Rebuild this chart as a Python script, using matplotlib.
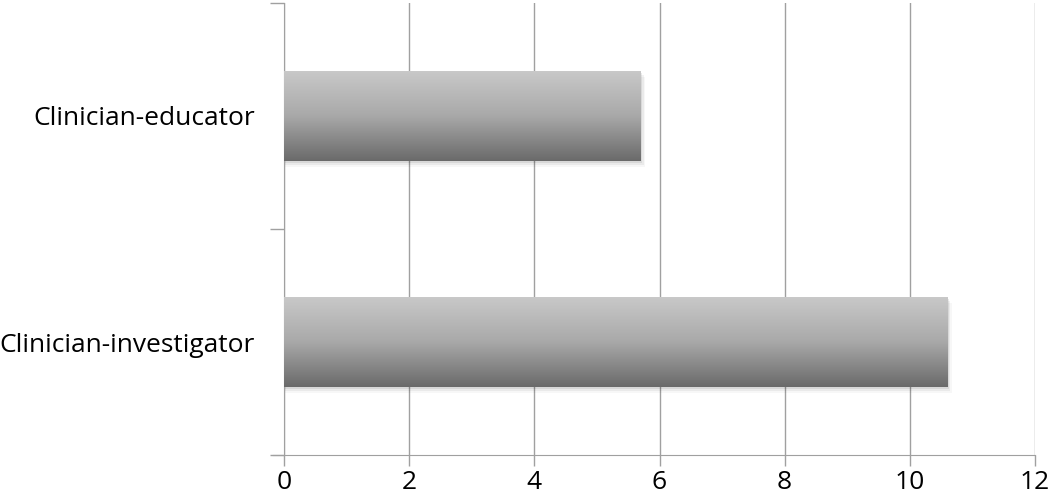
import numpy as np
import matplotlib
matplotlib.use("Agg")
from matplotlib import pyplot as plt
from matplotlib.colors import LinearSegmentedColormap
from matplotlib.patches import Rectangle

categories = ["Clinician-investigator", "Clinician-educator"]
values = [10.6, 5.7]
xticks = [0, 2, 4, 6, 8, 10, 12]

plt.rcParams['font.family'] = ['Open Sans', 'DejaVu Sans']

fig = plt.figure(figsize=(10.5, 4.98), dpi=100)
ax = fig.add_axes([0.2705, 0.0863, 0.7152, 0.9077])

ypos = np.arange(len(categories))
bars = ax.barh(ypos, values, height=0.4, color='none', edgecolor='none', zorder=3)

# grey gradient, light at top, dark at bottom
cmap = LinearSegmentedColormap.from_list('g', ['#c9c9c9', '#a9a9a9', '#6a6a6a'])
grad = np.linspace(0, 1, 256).reshape(-1, 1)
for b in bars:
    x0, y0 = b.get_x(), b.get_y()
    w, h = b.get_width(), b.get_height()
    # soft shadow
    for k, a in enumerate([0.08, 0.05, 0.03]):
        d = 0.015 * (k + 1)
        ax.add_patch(Rectangle((x0, y0 - d * 0.6), w + d * 1.6, h, color='black',
                               alpha=a, lw=0, zorder=2))
    im = ax.imshow(grad, cmap=cmap, aspect='auto', extent=(x0, x0 + w, y0, y0 + h),
                   zorder=3, interpolation='bicubic')
    im.set_clip_path(b)

ax.set_xlim(0, 12)
ax.set_ylim(-0.5, 1.5)
ax.set_xticks(xticks)
ax.set_xticklabels([str(t) for t in xticks])
ax.set_yticks(ypos)
ax.set_yticklabels(categories)
ax.set_yticks([-0.5, 0.5, 1.5], minor=True)
ax.tick_params(axis='y', which='major', length=0, pad=21, labelsize=19)
ax.tick_params(axis='y', which='minor', length=10, color='#a0a0a0', width=1)
ax.tick_params(axis='x', length=8, color='#a0a0a0', width=1, labelsize=19, pad=3)

ax.grid(axis='x', color='#a0a0a0', lw=1, zorder=1)
ax.set_axisbelow(True)
for s in ['top', 'right']:
    ax.spines[s].set_visible(False)
for s in ['left', 'bottom']:
    ax.spines[s].set_color('#a0a0a0')
ax.spines['bottom'].set_bounds(-0.17, 12)

fig.savefig('out.png', dpi=100)
